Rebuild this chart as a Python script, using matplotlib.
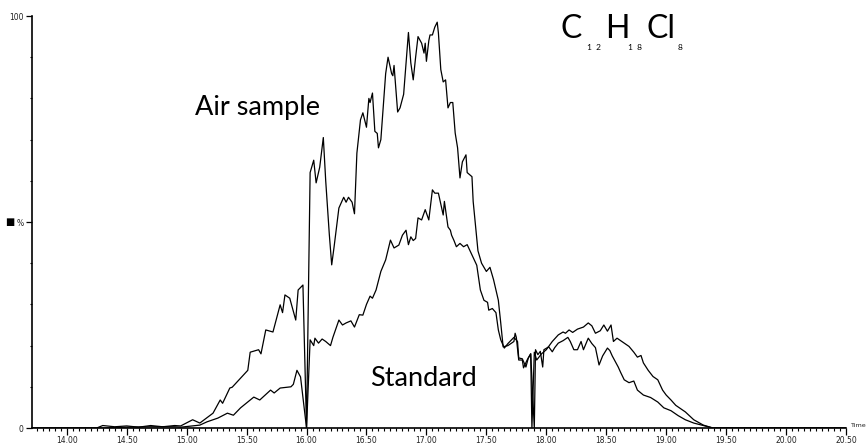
import matplotlib
matplotlib.use("Agg")
import matplotlib.pyplot as plt
from matplotlib.ticker import MultipleLocator, FixedLocator

# ---- data ----
air_time = [13.71, 14.25, 14.30, 14.40, 14.50, 14.60, 14.70, 14.80, 14.90, 14.95,
            15.05, 15.11, 15.22, 15.28, 15.30, 15.36, 15.38, 15.51, 15.53, 15.60, 15.62,
            15.66, 15.72, 15.78, 15.80, 15.82, 15.86, 15.91, 15.93, 15.97, 16.00,
            16.03, 16.06, 16.08, 16.11, 16.14, 16.16, 16.19, 16.21, 16.23, 16.27,
            16.31, 16.33, 16.35, 16.38, 16.40, 16.42, 16.45, 16.47, 16.50, 16.52,
            16.53, 16.55, 16.57, 16.59, 16.60, 16.62, 16.66, 16.68, 16.71, 16.72,
            16.73, 16.76, 16.78, 16.81, 16.83, 16.85, 16.87, 16.89, 16.91, 16.93,
            16.96, 16.98, 16.99, 17.00, 17.02, 17.03, 17.05, 17.07, 17.09, 17.10,
            17.12, 17.14, 17.16, 17.18, 17.20, 17.22, 17.24, 17.26, 17.28, 17.30,
            17.33, 17.34, 17.38, 17.39, 17.43, 17.46, 17.50, 17.53, 17.56, 17.60,
            17.62, 17.64, 17.68, 17.73, 17.74, 17.75, 17.77, 17.80, 17.81, 17.84,
            17.85, 17.87, 17.88, 17.90, 17.92, 17.96, 18.00, 18.05, 18.10, 18.14,
            18.16, 18.19, 18.22, 18.26, 18.31, 18.35, 18.38, 18.41, 18.45, 18.48,
            18.51, 18.54, 18.56, 18.59, 18.62, 18.65, 18.69, 18.73, 18.76, 18.79,
            18.81, 18.85, 18.89, 18.93, 18.97, 19.00, 19.04, 19.08, 19.16, 19.23,
            19.31, 19.39, 20.50]
air_val = [0.0, 0.0, 0.6, 0.3, 0.5, 0.2, 0.6, 0.3, 0.6, 0.5,
           2.0, 1.2, 3.6, 6.8, 6.0, 9.7, 9.9, 14.0, 18.4, 19.0, 18.0,
           23.8, 23.3, 29.9, 28.0, 32.3, 31.5, 26.2, 33.5, 34.7, 0.0,
           62.0, 65.0, 59.5, 63.3, 70.5, 60.0, 47.0, 39.6, 44.0, 53.4,
           56.0, 54.8, 56.0, 54.8, 52.0, 66.7, 74.8, 76.5, 73.0, 80.0,
           79.0, 81.3, 72.0, 71.5, 68.0, 70.0, 86.0, 90.0, 86.0, 85.5,
           88.0, 76.7, 77.7, 81.0, 88.6, 96.0, 88.6, 84.5, 90.0, 95.0,
           93.4, 91.0, 93.4, 89.0, 94.0, 95.4, 95.4, 97.3, 98.5, 95.9,
           87.0, 84.0, 84.5, 77.7, 79.0, 79.0, 71.6, 68.0, 60.7, 64.6,
           66.3, 62.0, 61.0, 55.0, 43.0, 40.0, 38.0, 39.0, 36.0, 31.0,
           25.5, 19.7, 20.0, 21.0, 23.0, 22.0, 16.5, 16.5, 14.6, 16.5,
           17.0, 18.0, 0.0, 18.4, 16.5, 18.0, 19.0, 21.0, 22.6, 23.3,
           23.0, 23.8, 23.2, 24.0, 24.5, 25.5, 24.8, 23.0, 23.6, 25.0,
           23.5, 25.0, 21.0, 21.8, 21.2, 20.6, 19.8, 18.4, 17.2, 17.6,
           15.8, 14.0, 12.5, 11.7, 9.2, 8.0, 6.8, 5.5, 3.9, 2.0,
           0.7, 0.0, 0.0]

std_time = [13.71, 14.30, 14.50, 14.70, 14.90, 14.95, 15.11, 15.17, 15.26, 15.34,
            15.39, 15.45, 15.56, 15.61, 15.70, 15.73, 15.78, 15.87, 15.89, 15.92,
            15.95, 16.00, 16.03, 16.06, 16.07, 16.10, 16.13, 16.16, 16.20, 16.22,
            16.27, 16.30, 16.33, 16.37, 16.40, 16.44, 16.47, 16.50, 16.53, 16.55,
            16.58, 16.62, 16.66, 16.70, 16.73, 16.77, 16.80, 16.83, 16.85, 16.87,
            16.89, 16.91, 16.93, 16.96, 16.99, 17.02, 17.05, 17.07, 17.10, 17.14,
            17.15, 17.18, 17.20, 17.21, 17.23, 17.25, 17.28, 17.31, 17.34, 17.38,
            17.42, 17.45, 17.48, 17.51, 17.52, 17.55, 17.58, 17.60, 17.62, 17.65,
            17.68, 17.73, 17.76, 17.77, 17.80, 17.83, 17.85, 17.87, 17.90, 17.91,
            17.93, 17.95, 17.97, 17.98, 18.02, 18.05, 18.07, 18.10, 18.14, 18.18,
            18.20, 18.23, 18.26, 18.29, 18.31, 18.35, 18.38, 18.41, 18.44, 18.47,
            18.51, 18.53, 18.55, 18.60, 18.62, 18.65, 18.69, 18.73, 18.76, 18.81,
            18.87, 18.93, 18.98, 19.04, 19.10, 19.16, 19.23, 19.31, 19.39, 20.50]
std_val = [0.0, 0.0, 0.2, 0.3, 0.3, 0.2, 0.7, 1.5, 2.4, 3.6,
           3.1, 4.9, 7.5, 6.8, 9.2, 8.5, 9.7, 10.0, 10.6, 14.0,
           12.4, 0.0, 21.4, 20.0, 21.8, 20.6, 21.6, 21.0, 20.0, 22.0,
           26.2, 25.0, 25.5, 26.0, 24.5, 27.5, 27.4, 30.0, 32.0, 31.5,
           33.5, 38.0, 40.8, 45.6, 43.7, 44.4, 46.8, 48.0, 44.5, 46.4,
           45.5, 46.0, 51.0, 50.5, 53.0, 50.5, 57.8, 57.0, 57.0, 51.7,
           55.0, 48.8, 48.0, 46.8, 45.5, 44.0, 44.8, 44.0, 44.5, 42.0,
           39.5, 33.5, 31.0, 30.5, 28.6, 29.0, 28.0, 23.8, 21.4, 19.4,
           20.5, 22.0, 21.0, 17.0, 16.8, 14.8, 17.0, 18.0, 0.0, 19.0,
           17.8, 18.6, 14.8, 19.0, 19.7, 18.5, 19.5, 20.6, 21.2, 22.0,
           21.0, 19.0, 19.0, 21.0, 19.0, 21.8, 20.5, 19.5, 15.3, 17.5,
           19.4, 18.8, 17.5, 14.8, 13.5, 11.7, 11.0, 11.4, 9.2, 8.0,
           7.4, 6.3, 4.9, 4.2, 3.0, 2.0, 1.2, 0.6, 0.0, 0.0]

y_ticks = [0, 50, 100]
y_tick_labels = ["0", "%", "100"]
x_major = [14.0, 14.5, 15.0, 15.5, 16.0, 16.5, 17.0, 17.5, 18.0, 18.5, 19.0, 19.5, 20.0, 20.5]

fig = plt.figure(figsize=(8.68, 4.44), dpi=100)
ax = fig.add_axes([32/868, 16/444, (846-32)/868, (428-16)/444])

ax.plot(air_time, air_val, color="black", lw=0.9)
ax.plot(std_time, std_val, color="black", lw=0.9)

ax.set_xlim(13.71, 20.5)
ax.set_ylim(0, 100)
for s in ("top", "right"):
    ax.spines[s].set_visible(False)
ax.spines["left"].set_linewidth(1.2)
ax.spines["bottom"].set_linewidth(1.2)

ax.xaxis.set_major_locator(FixedLocator(x_major))
ax.set_xticklabels([f"{v:.2f}" for v in x_major], fontsize=5.5, color="#222222")
ax.xaxis.set_minor_locator(MultipleLocator(0.05))
ax.tick_params(axis="x", which="major", length=5, width=0.9, direction="out", pad=1)
ax.tick_params(axis="x", which="minor", length=2.5, width=0.8, direction="out")

ax.yaxis.set_major_locator(FixedLocator(y_ticks))
ax.set_yticklabels(y_tick_labels, fontsize=5.5, color="#222222")
ax.yaxis.set_minor_locator(MultipleLocator(10))
ax.tick_params(axis="y", which="major", length=4, width=0.9, direction="out", pad=2)
ax.tick_params(axis="y", which="minor", length=1.5, width=0.8, direction="out")

fig.text(10/868, 1 - 222/444, "■", fontsize=7, ha="center", va="center")
fig.text(850/868, 1 - 425/444, "Time", fontsize=4.6, ha="left", va="center", color="#222222")

font = "Lato"
fig.text(195/868, 1 - 108/444, "Air sample", fontsize=19.5, family=font, ha="left", va="center")
fig.text(370/868, 1 - 378/444, "Standard", fontsize=19.5, family=font, ha="left", va="center")

# formula C12H18Cl8
def ft(x, y, s, size):
    fig.text(x/868, 1 - y/444, s, fontsize=size, family=font, ha="left", va="center")
ft(561, 29, "C", 23)
ft(587, 47, "1  2", 6)
ft(605, 29, "H", 23)
ft(628, 47, "1  8", 6)
ft(646, 29, "Cl", 23)
ft(678, 47, "8", 6)

fig.savefig("out.png", dpi=100)
